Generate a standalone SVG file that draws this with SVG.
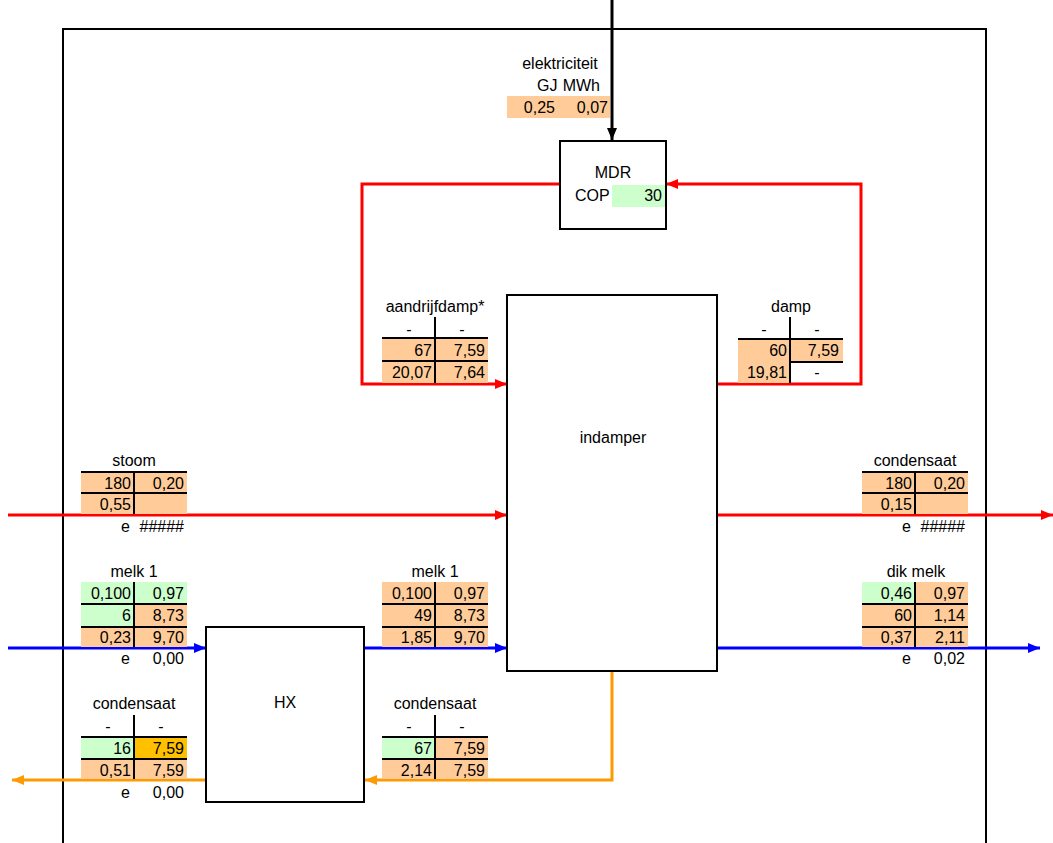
<svg xmlns="http://www.w3.org/2000/svg" width="1053" height="843" viewBox="0 0 1053 843">
<style>
text{font-family:"Liberation Sans",Arial,sans-serif;font-size:16px;fill:#000}
.e{text-anchor:end}.m{text-anchor:middle}
.or{fill:#FFCC99}.gr{fill:#CCFFCC}.go{fill:#FFC000}
.tl{stroke:#000;stroke-width:2;fill:none}
.box{fill:#fff;stroke:#000;stroke-width:2}
.red{stroke:#FF0000;stroke-width:3;fill:none}
.blu{stroke:#0000FF;stroke-width:3;fill:none}
.ora{stroke:#FF9900;stroke-width:3;fill:none}
.blk{stroke:#000;stroke-width:3;fill:none}
</style>
<defs>
<marker id="aR" viewBox="0 0 12 10" refX="12" refY="5" markerWidth="12" markerHeight="10" markerUnits="userSpaceOnUse" orient="auto"><path d="M0,0 L12,5 L0,10 Z" fill="#FF0000"/></marker>
<marker id="aB" viewBox="0 0 12 10" refX="12" refY="5" markerWidth="12" markerHeight="10" markerUnits="userSpaceOnUse" orient="auto"><path d="M0,0 L12,5 L0,10 Z" fill="#0000FF"/></marker>
<marker id="aO" viewBox="0 0 12 10" refX="12" refY="5" markerWidth="12" markerHeight="10" markerUnits="userSpaceOnUse" orient="auto"><path d="M0,0 L12,5 L0,10 Z" fill="#FF9900"/></marker>
<marker id="aK" viewBox="0 0 12 10" refX="12" refY="5" markerWidth="12" markerHeight="10" markerUnits="userSpaceOnUse" orient="auto"><path d="M0,0 L12,5 L0,10 Z" fill="#000"/></marker>
</defs>
<rect width="1053" height="843" fill="#fff"/>
<g id="frame"><path class="tl" d="M63,843 V29 H986 V843"/></g>

<g id="elektriciteit">
<text class="m" x="560" y="69">elektriciteit</text>
<text x="537" y="91">GJ</text><text class="e" x="600" y="91">MWh</text>
<rect class="or" x="507" y="96" width="103" height="22"/>
<text class="e" x="555" y="113">0,25</text><text class="e" x="608" y="113">0,07</text>
</g>

<g id="connectors">
<path class="blk" d="M612,0 V140" marker-end="url(#aK)"/>
<path class="red" d="M559,184 H362 V384 H507" marker-end="url(#aR)"/>
<path class="red" d="M717,384 H861 V184 H666" marker-end="url(#aR)"/>
<path class="red" d="M8,515 H507" marker-end="url(#aR)"/>
<path class="red" d="M717,515 H1053" marker-end="url(#aR)"/>
<path class="blu" d="M8,648 H206" marker-end="url(#aB)"/>
<path class="blu" d="M364,648 H507" marker-end="url(#aB)"/>
<path class="blu" d="M717,648 H1040" marker-end="url(#aB)"/>
<path class="ora" d="M612,671 V780 H365" marker-end="url(#aO)"/>
<path class="ora" d="M206,780 H12" marker-end="url(#aO)"/>
</g>

<g id="mdr">
<rect class="box" x="560" y="141" width="106" height="88"/>
<text class="m" x="613" y="178">MDR</text>
<text x="575" y="201">COP</text>
<rect class="gr" x="612" y="185" width="53" height="22"/>
<text class="e" x="662" y="201">30</text>
</g>

<g id="indamper">
<rect class="box" x="507" y="295" width="210" height="376"/>
<text class="m" x="613" y="443">indamper</text>
</g>

<g id="hx">
<rect class="box" x="206" y="627" width="158" height="175"/>
<text class="m" x="285" y="708">HX</text>
</g>

<g id="t-aandrijfdamp">
<text class="m" x="435" y="312">aandrijfdamp*</text>
<text class="m" x="409" y="335">-</text><text class="m" x="462" y="335">-</text>
<rect class="or" x="382" y="338" width="106" height="45"/>
<path class="tl" d="M382,338 H488 M382,361 H488 M435,317 V383"/>
<text class="e" x="432" y="356">67</text><text class="e" x="485" y="356">7,59</text>
<text class="e" x="432" y="378">20,07</text><text class="e" x="485" y="378">7,64</text>
</g>

<g id="t-damp">
<text class="m" x="791" y="312">damp</text>
<text class="m" x="764" y="335">-</text><text class="m" x="817" y="335">-</text>
<rect class="or" x="738" y="339" width="105" height="22"/>
<rect class="or" x="738" y="361" width="52" height="22"/>
<path class="tl" d="M738,339 H843 M790,362 H843 M790,317 V383"/>
<text class="e" x="787" y="356">60</text><text class="e" x="839" y="356">7,59</text>
<text class="e" x="787" y="378">19,81</text><text class="m" x="817" y="378">-</text>
</g>

<g id="t-stoom">
<text class="m" x="134" y="466">stoom</text>
<rect class="or" x="81" y="472" width="106" height="42"/>
<path class="tl" d="M81,472 H187 M81,493 H187 M134,472 V514"/>
<text class="e" x="131" y="489">180</text><text class="e" x="184" y="489">0,20</text>
<text class="e" x="131" y="510">0,55</text>
<text class="e" x="130" y="532">e</text><text class="e" x="184" y="532">#####</text>
</g>

<g id="t-condensaat-uit">
<text class="m" x="915" y="466">condensaat</text>
<rect class="or" x="862" y="472" width="106" height="42"/>
<path class="tl" d="M862,472 H968 M862,493 H968 M915,472 V514"/>
<text class="e" x="912" y="489">180</text><text class="e" x="965" y="489">0,20</text>
<text class="e" x="912" y="510">0,15</text>
<text class="e" x="911" y="532">e</text><text class="e" x="965" y="532">#####</text>
</g>

<g id="t-melk1-in">
<text class="m" x="134" y="577">melk 1</text>
<rect class="gr" x="81" y="582" width="106" height="22"/>
<rect class="gr" x="81" y="604" width="53" height="23"/>
<rect class="or" x="134" y="604" width="53" height="23"/>
<rect class="or" x="81" y="627" width="106" height="20"/>
<path class="tl" d="M81,604 H187 M81,627 H187 M134,582 V647"/>
<text class="e" x="131" y="599">0,100</text><text class="e" x="184" y="599">0,97</text>
<text class="e" x="131" y="621">6</text><text class="e" x="184" y="621">8,73</text>
<text class="e" x="131" y="643">0,23</text><text class="e" x="184" y="643">9,70</text>
<text class="e" x="130" y="664">e</text><text class="e" x="184" y="664">0,00</text>
</g>

<g id="t-melk1-mid">
<text class="m" x="435" y="577">melk 1</text>
<rect class="or" x="382" y="582" width="106" height="65"/>
<path class="tl" d="M382,604 H488 M382,627 H488 M435,582 V647"/>
<text class="e" x="432" y="599">0,100</text><text class="e" x="485" y="599">0,97</text>
<text class="e" x="432" y="621">49</text><text class="e" x="485" y="621">8,73</text>
<text class="e" x="432" y="643">1,85</text><text class="e" x="485" y="643">9,70</text>
</g>

<g id="t-dikmelk">
<text class="m" x="916" y="577">dik melk</text>
<rect class="gr" x="862" y="582" width="53" height="22"/>
<rect class="or" x="915" y="582" width="53" height="22"/>
<rect class="or" x="862" y="604" width="106" height="43"/>
<path class="tl" d="M862,604 H968 M862,627 H968 M915,582 V647"/>
<text class="e" x="912" y="599">0,46</text><text class="e" x="965" y="599">0,97</text>
<text class="e" x="912" y="621">60</text><text class="e" x="965" y="621">1,14</text>
<text class="e" x="912" y="643">0,37</text><text class="e" x="965" y="643">2,11</text>
<text class="e" x="911" y="664">e</text><text class="e" x="965" y="664">0,02</text>
</g>

<g id="t-condensaat-hx">
<text class="m" x="134" y="709">condensaat</text>
<text class="m" x="108" y="732">-</text><text class="m" x="161" y="732">-</text>
<rect class="gr" x="81" y="737" width="53" height="22"/>
<rect class="go" x="134" y="737" width="53" height="22"/>
<rect class="or" x="81" y="759" width="106" height="20"/>
<path class="tl" d="M81,737 H187 M81,759 H187 M134,715 V779"/>
<text class="e" x="131" y="754">16</text><text class="e" x="184" y="754">7,59</text>
<text class="e" x="131" y="776">0,51</text><text class="e" x="184" y="776">7,59</text>
<text class="e" x="130" y="798">e</text><text class="e" x="184" y="798">0,00</text>
</g>

<g id="t-condensaat-mid">
<text class="m" x="435" y="709">condensaat</text>
<text class="m" x="409" y="732">-</text><text class="m" x="462" y="732">-</text>
<rect class="gr" x="382" y="737" width="53" height="22"/>
<rect class="or" x="435" y="737" width="53" height="22"/>
<rect class="or" x="382" y="759" width="106" height="20"/>
<path class="tl" d="M382,737 H488 M382,759 H488 M435,715 V779"/>
<text class="e" x="432" y="754">67</text><text class="e" x="485" y="754">7,59</text>
<text class="e" x="432" y="776">2,14</text><text class="e" x="485" y="776">7,59</text>
</g>
</svg>
